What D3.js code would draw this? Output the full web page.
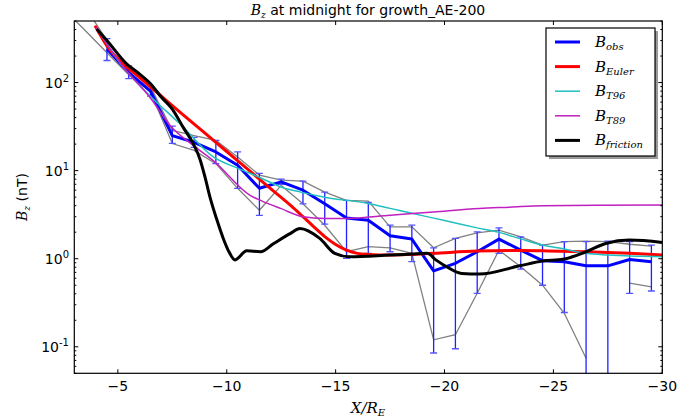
<!DOCTYPE html>
<html><head><meta charset="utf-8">
<script src="https://cdn.jsdelivr.net/npm/d3@7"></script>
<style>body{margin:0;background:#fff} svg{display:block}</style>
</head><body><svg id="c" width="677" height="420"></svg>
<script>
// ---- data ----
const obsX = [-4.5,-5.5,-6.5,-7.5,-8.5,-9.5,-10.5,-11.5,-12.5,-13.5,-14.5,-15.5,-16.5,-17.5,-18.5,-19.5,-20.5,-21.5,-22.5,-23.5,-24.5,-25.5,-26.5,-27.5,-28.5,-29.5];
const bObs = [240,130,80,25,21,16.3,11.5,6.3,7.45,6.0,4.2,2.9,2.74,1.82,1.67,0.726,0.887,1.2,1.67,1.25,0.95,0.925,0.83,0.83,0.98,0.925];
const bObsLo = [178,111,70,20.4,18.4,12,6.3,3.1,7.0,4.2,2.47,1.01,1.15,1.2,0.925,0.085,0.095,0.405,1.15,0.76,0.5,0.245,0.001,0.001,0.405,0.43];
const bObsHi = [316,155,92,32,23.8,22,16.3,9.3,8.0,7.6,5.7,4.6,4.35,2.4,2.4,1.33,1.7,2.02,2.24,1.77,1.43,1.56,1.56,1.58,1.56,1.43];

const grayX = [-2.5,-3.5,-4.5,-5.5,-6.5,-7.5,-8.5,-9.5,-10.5,-11.5,-12.5,-13.5,-14.5,-15.5,-16.5,-17.5,-18.5,-19.5,-20.5,-21.5,-22.5,-23.5,-24.5,-25.5,-26.5,-27.5,-28.5,-29.5];
const grayUpper = [null,720,300,150,90,28.6,25,22,14.3,8.9,7.8,7.6,5.7,4.6,4.5,2.3,2.3,1.33,1.7,1.97,2.11,1.77,1.43,1.56,1.58,1.56,1.46,1.39];
const grayLower = [690,390,218,123,78,20.3,17,12,6.3,3.55,6.8,4.2,2.4,1.2,1.37,1.33,1.15,0.12,0.137,0.405,1.25,0.81,0.5,0.24,0.074,null,0.527,0.48];

const eulerX = [-3.95,-4.5,-5.25,-6,-7,-8,-9,-10,-11,-12,-13,-13.5,-14,-14.5,-15,-15.5,-16,-16.5,-17.5,-18.5,-19.5,-21.5,-23.5,-24.5,-26.5,-28.5,-30];
const bEuler = [443,260,163,114,70,43,26.7,16.5,10.2,6.3,3.9,3.0,2.3,1.78,1.45,1.25,1.15,1.12,1.1,1.12,1.15,1.22,1.24,1.23,1.2,1.15,1.1];

const t96X = [-4.1,-5.25,-6.47,-7.85,-9.38,-10.53,-11.6,-12.5,-13.4,-14.5,-16.5,-17.5,-18.5,-19.5,-20.5,-21.5,-22.5,-23.5,-24.5,-25.5,-26.5,-27.5,-28.5,-29.5,-30];
const bT96 = [390,149,71,34,14.3,10.6,8.2,6.5,5.7,5.0,4.24,3.73,3.28,2.89,2.54,2.24,1.99,1.68,1.43,1.29,1.15,1.1,1.07,1.06,1.05];

const t89X = [-4.0,-5.25,-6.47,-7.47,-8.5,-9.38,-11.07,-11.55,-12.5,-13.5,-14.5,-15.5,-17.5,-19.5,-21.6,-23,-24.5,-27,-30];
const bT89 = [420,150,68,31,19,13,5.25,4.6,3.7,3.0,2.87,2.87,3.12,3.4,3.72,3.85,4.0,4.04,4.06];

const fricX = [-4.03,-4.5,-5.4,-6.0,-6.5,-7.0,-7.5,-8.0,-8.47,-8.77,-9.0,-9.23,-9.54,-9.84,-10.1,-10.38,-10.92,-11.55,-12.16,-12.93,-13.36,-14.27,-14.96,-15.65,-17.5,-18.5,-19.2,-19.6,-20.1,-20.79,-21.6,-23.45,-24.5,-25.45,-26.5,-27.4,-28.5,-30];
const bFric = [406,300,163,125,97,68,50,31,20,13.5,8.5,5.0,2.8,1.7,1.2,0.97,1.23,1.2,1.49,1.94,2.2,1.7,1.15,1.05,1.1,1.13,1.15,0.97,0.81,0.68,0.67,0.83,0.94,0.985,1.2,1.49,1.63,1.53];

const xTicks = [-5,-10,-15,-20,-25,-30];
const yMajor = [0.1,1,10,100];
const yExp = ["-1","0","1","2"];

// ---- layout ----
const svg = d3.select("#c");
const L = 74.3, R = 662.3, T = 21, B = 373.3;
const x = d3.scaleLinear().domain([-3,-30]).range([L,R]);
const y = d3.scaleLog().domain([0.05,500]).range([B,T]);

svg.append("defs").append("clipPath").attr("id","clip")
  .append("rect").attr("x",L).attr("y",T).attr("width",R-L).attr("height",B-T);
const g = svg.append("g").attr("clip-path","url(#clip)");

const smoothLine = (xs) => d3.line()
  .defined((d)=>d!=null)
  .x((d,i)=>x(xs[i])).y(d=>y(d))
  .curve(d3.curveMonotoneX);
const straightLine = (xs) => d3.line()
  .defined((d)=>d!=null)
  .x((d,i)=>x(xs[i])).y(d=>y(d));

// gray lines
[grayUpper, grayLower].forEach(arr=>{
  g.append("path").attr("d", straightLine(grayX)(arr))
   .attr("fill","none").attr("stroke","#808080").attr("stroke-width",1.3);
});

// error bars
const eb = g.append("g").attr("stroke","#2020ff").attr("stroke-width",1.3);
obsX.forEach((xv,i)=>{
  const xp = x(xv);
  eb.append("line").attr("x1",xp).attr("x2",xp).attr("y1",y(bObsLo[i])).attr("y2",y(bObsHi[i]));
  [bObsLo[i], bObsHi[i]].forEach(v=>{
    eb.append("line").attr("x1",xp-3.5).attr("x2",xp+3.5).attr("y1",y(v)).attr("y2",y(v)).attr("stroke","#5555ff");
  });
});

// B_obs line
g.append("path").attr("d", straightLine(obsX)(bObs))
  .attr("fill","none").attr("stroke","#0000ff").attr("stroke-width",3).attr("stroke-linejoin","round");

const models = [
  {xs:eulerX, v:bEuler, c:"#ff0000", w:3},
  {xs:t96X, v:bT96, c:"#1fc0c0", w:1.5},
  {xs:t89X, v:bT89, c:"#c020c0", w:1.5},
  {xs:fricX, v:bFric, c:"#000000", w:3}
];
models.forEach(m=>{
  g.append("path").attr("d", smoothLine(m.xs)(m.v))
    .attr("fill","none").attr("stroke",m.c).attr("stroke-width",m.w)
    .attr("stroke-linejoin","round");
});

// ---- axes frame & ticks ----
const ax = svg.append("g").attr("stroke","#000").attr("stroke-width",1);
xTicks.forEach(t=>{
  ax.append("line").attr("x1",x(t)).attr("x2",x(t)).attr("y1",B).attr("y2",B-4);
  ax.append("line").attr("x1",x(t)).attr("x2",x(t)).attr("y1",T).attr("y2",T+4);
});
const minor = [];
for (let e=-2;e<=2;e++) for (let k=1;k<10;k++){ const v=k*Math.pow(10,e); if(v>=0.05&&v<=500) minor.push({v, major:k===1}); }
minor.forEach(m=>{
  const len = m.major?4:2;
  const yp = y(m.v);
  ax.append("line").attr("x1",L).attr("x2",L+len).attr("y1",yp).attr("y2",yp);
  ax.append("line").attr("x1",R).attr("x2",R-len).attr("y1",yp).attr("y2",yp);
});
svg.append("rect").attr("x",L).attr("y",T).attr("width",R-L).attr("height",B-T)
  .attr("fill","none").attr("stroke","#000").attr("stroke-width",1.2);

const sans = "DejaVu Sans, sans-serif";
const serif = "DejaVu Serif, serif";
// x tick labels
xTicks.forEach(t=>{
  svg.append("text").attr("x",x(t)).attr("y",391).attr("text-anchor","middle")
    .attr("font-family",sans).attr("font-size",14).text("\u2212"+Math.abs(t));
});
// y tick labels
yMajor.forEach((v,i)=>{
  const t = svg.append("text").attr("x",69).attr("y",y(v)+5.5).attr("text-anchor","end")
    .attr("font-family",sans).attr("font-size",14);
  t.append("tspan").text("10");
  t.append("tspan").attr("dy",-6).attr("font-size",10).text(yExp[i]);
});

// title
const tt = svg.append("text").attr("x",368).attr("y",15).attr("text-anchor","middle")
  .attr("font-family",sans).attr("font-size",14);
tt.append("tspan").attr("font-family",serif).attr("font-style","italic").text("B");
tt.append("tspan").attr("font-family",serif).attr("font-style","italic").attr("font-size",9).attr("dy",3).text("z");
tt.append("tspan").attr("dy",-3).text(" at midnight for growth_AE-200");

// x label
const xl = svg.append("text").attr("x",368).attr("y",413).attr("text-anchor","middle")
  .attr("font-family",serif).attr("font-style","italic").attr("font-size",15);
xl.append("tspan").text("X/R");
xl.append("tspan").attr("font-size",10).attr("dy",3).text("E");

// y label
const yl = svg.append("text").attr("transform","translate(27,197) rotate(-90)").attr("text-anchor","middle")
  .attr("font-family",sans).attr("font-size",14);
yl.append("tspan").attr("font-family",serif).attr("font-style","italic").text("B");
yl.append("tspan").attr("font-family",serif).attr("font-style","italic").attr("font-size",9).attr("dy",3).text("z");
yl.append("tspan").attr("dy",-3).text(" (nT)");

// legend
const legItems = [
  {main:"B", sub:"obs", c:"#0000ff", w:3},
  {main:"B", sub:"Euler", c:"#ff0000", w:3},
  {main:"B", sub:"T96", c:"#1fc0c0", w:1.5},
  {main:"B", sub:"T89", c:"#c020c0", w:1.5},
  {main:"B", sub:"friction", c:"#000000", w:3}
];
const lx = 546, ly = 28, lw = 109, lh = 128;
svg.append("rect").attr("x",lx+3).attr("y",ly+3).attr("width",lw).attr("height",lh).attr("fill","#999");
svg.append("rect").attr("x",lx).attr("y",ly).attr("width",lw).attr("height",lh).attr("fill","#fff").attr("stroke","#000").attr("stroke-width",1.2);
legItems.forEach((d,i)=>{
  const yy = ly + 14 + i*24.6;
  svg.append("line").attr("x1",lx+9).attr("x2",lx+34).attr("y1",yy).attr("y2",yy)
    .attr("stroke",d.c).attr("stroke-width",d.w);
  const t = svg.append("text").attr("x",lx+49).attr("y",yy+5).attr("font-family",serif)
    .attr("font-style","italic").attr("font-size",15);
  t.append("tspan").text(d.main);
  t.append("tspan").attr("font-size",10).attr("dy",3).text(d.sub);
});
</script>
</body></html>
